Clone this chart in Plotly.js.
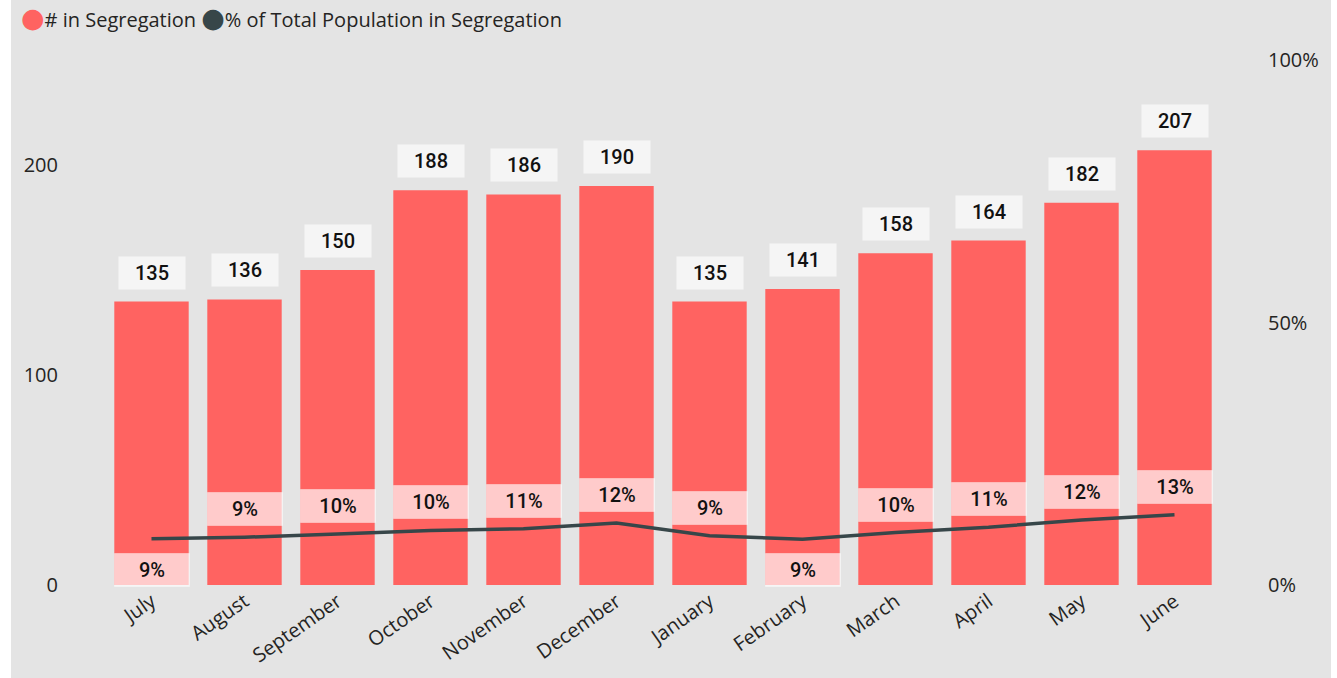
<!DOCTYPE html>
<html>
<head>
<meta charset="utf-8">
<script src="https://cdn.plot.ly/plotly-3.0.1.min.js"></script>
<style>
  html, body { margin: 0; padding: 0; background: #ffffff; }
  #chart { position: absolute; left: 11px; top: 0; width: 1320px; height: 678px; }
</style>
</head>
<body>
<div id="chart"></div>
<script>
const months = ["July", "August", "September", "October", "November", "December",
                "January", "February", "March", "April", "May", "June"];
const inSegregation = [135, 136, 150, 188, 186, 190, 135, 141, 158, 164, 182, 207];
const pctSegregation = [0.088, 0.091, 0.097, 0.104, 0.107, 0.118, 0.094, 0.087, 0.100, 0.110, 0.124, 0.134];
const pctLabelSide = ["below", "above", "above", "above", "above", "above",
                      "above", "below", "above", "above", "above", "above"];
const leftTicks = [0, 100, 200];
const rightTicks = [0, 0.5, 1];
const rightTickText = ["0%", "50%", "100%"];

const barColor = "#FF6361";
const lineColor = "#374649";
const bgColor = "#E4E4E4";
const tickFont = { family: "Open Sans, Noto Sans, sans-serif", size: 20, color: "#252423" };
const labelFont = { family: "Roboto, sans-serif", size: 20, color: "#111111", weight: 500 };

const W = 1320, H = 678;
const margin = { l: 94, r: 110, t: 60, b: 93 };
const plotW = W - margin.l - margin.r;

const traces = [
  {
    type: "bar", x: months, y: inSegregation, marker: { color: barColor },
    name: "# in Segregation", showlegend: false, hoverinfo: "x+y"
  },
  {
    type: "scatter", mode: "lines", x: months, y: pctSegregation, yaxis: "y2",
    line: { color: lineColor, width: 3.5 }, name: "% of Total Population in Segregation",
    showlegend: false
  }
];

const annotations = [];
months.forEach((m, i) => {
  annotations.push({
    x: m, y: inSegregation[i], xref: "x", yref: "y",
    text: String(inSegregation[i]), showarrow: false,
    yanchor: "middle", yshift: 29,
    bgcolor: "#F5F5F5", width: 62, height: 28, borderpad: 2,
    font: labelFont
  });
  annotations.push({
    x: m, y: pctSegregation[i], xref: "x", yref: "y2",
    text: Math.round(pctSegregation[i] * 100) + "%", showarrow: false,
    yanchor: "middle", yshift: pctLabelSide[i] === "below" ? -31 : 28,
    bgcolor: "rgba(255,255,255,0.67)", width: 70, height: 28, borderpad: 2,
    bordercolor: "rgba(255,255,255,0.35)", borderwidth: 1,
    font: labelFont
  });
});

// legend drawn as text with coloured circle glyphs
annotations.push({
  xref: "paper", yref: "paper",
  x: (8 - margin.l) / plotW, y: 1 + (60 - 18) / (H - margin.t - margin.b),
  xanchor: "left", yanchor: "middle", showarrow: false, align: "left",
  text: "<span style='color:" + barColor + ";font-size:27px;font-family:DejaVu Sans'>●</span># in Segregation " +
        "<span style='color:" + lineColor + ";font-size:27px;font-family:DejaVu Sans'>●</span>% of Total Population in Segregation",
  font: { family: "Open Sans, Noto Sans, sans-serif", size: 20, color: "#252423" }
});

const layout = {
  width: W, height: H,
  margin: margin,
  paper_bgcolor: bgColor, plot_bgcolor: bgColor,
  bargap: 0.2,
  showlegend: false,
  xaxis: {
    type: "category", tickangle: -35, tickfont: tickFont,
    showgrid: false, zeroline: false, showline: false, ticks: ""
  },
  yaxis: {
    range: [0, 250], tickvals: leftTicks, ticktext: leftTicks.map(String),
    tickfont: tickFont, showgrid: false, zeroline: false, showline: false,
    ticklabelstandoff: 46
  },
  yaxis2: {
    range: [0, 1], overlaying: "y", side: "right",
    tickvals: rightTicks, ticktext: rightTickText, tickfont: tickFont,
    showgrid: false, zeroline: false, showline: false,
    ticklabelstandoff: 46
  },
  annotations: annotations
};

Plotly.newPlot("chart", traces, layout, { displayModeBar: false, staticPlot: true });
</script>
</body>
</html>
